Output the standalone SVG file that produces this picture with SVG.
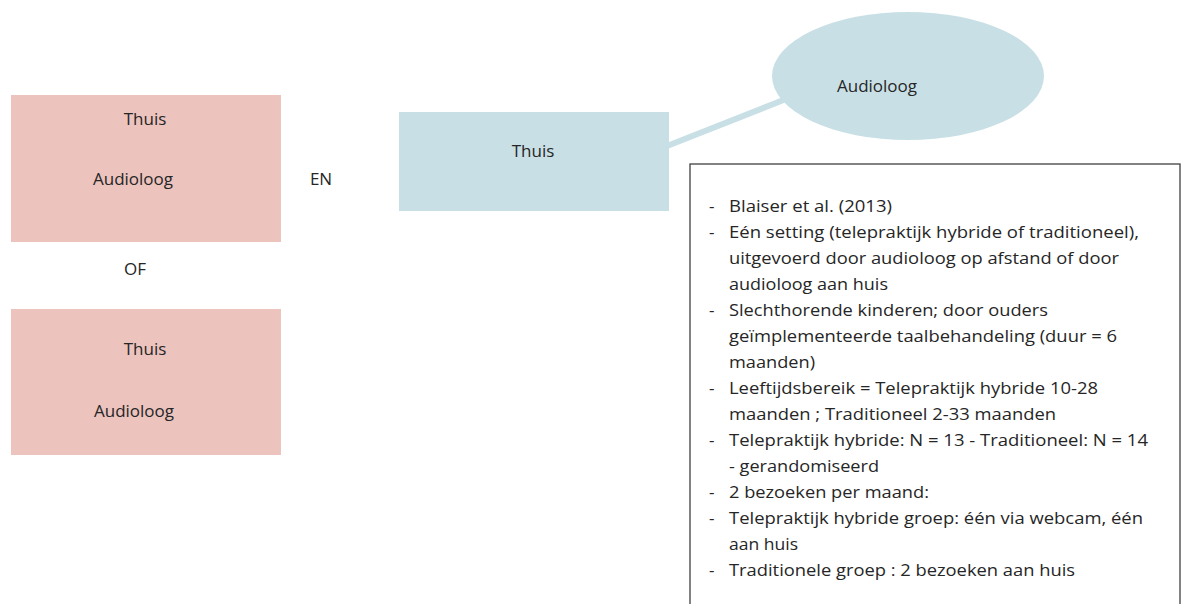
<svg xmlns="http://www.w3.org/2000/svg" width="1187" height="604" viewBox="0 0 1187 604">
<style>
  text { font-family: "Open Sans", "Liberation Sans", sans-serif; font-size: 17px; fill: #262626; }
  .pink { fill: #ECC3BD; }
  .blue { fill: #C8E0E5; }
  .c { text-anchor: middle; }
  .box { fill: #ffffff; stroke: #404040; stroke-width: 1.3; }
</style>
<rect width="1187" height="604" fill="#ffffff"/>
<g id="connectors">
  <line x1="667" y1="146" x2="786" y2="99" stroke="#C8E0E5" stroke-width="6"/>
</g>
<g id="pink1">
  <rect class="pink" x="11" y="95" width="270" height="147"/>
  <text class="c" x="145" y="125">Thuis</text>
  <text class="c" x="133" y="185">Audioloog</text>
</g>
<g id="en-label">
  <text class="c" x="321" y="185">EN</text>
</g>
<g id="of-label">
  <text class="c" x="135" y="275">OF</text>
</g>
<g id="pink2">
  <rect class="pink" x="11" y="309" width="270" height="146"/>
  <text class="c" x="145" y="355">Thuis</text>
  <text class="c" x="134" y="417">Audioloog</text>
</g>
<g id="thuis-blue">
  <rect class="blue" x="399" y="112" width="270" height="99"/>
  <text class="c" x="533" y="157">Thuis</text>
</g>
<g id="audioloog-ellipse">
  <ellipse class="blue" cx="908" cy="76" rx="136" ry="64"/>
  <text class="c" x="877" y="92">Audioloog</text>
</g>
<g id="info-box">
  <rect class="box" x="690" y="164" width="490" height="450"/>
  <g>
    <text x="709" y="212">-</text>
    <text x="729" y="212" textLength="163" lengthAdjust="spacingAndGlyphs">Blaiser et al. (2013)</text>
    <text x="709" y="238">-</text>
    <text x="729" y="238" textLength="410" lengthAdjust="spacingAndGlyphs">Eén setting (telepraktijk hybride of traditioneel),</text>
    <text x="729" y="264" textLength="390" lengthAdjust="spacingAndGlyphs">uitgevoerd door audioloog op afstand of door</text>
    <text x="729" y="290" textLength="159" lengthAdjust="spacingAndGlyphs">audioloog aan huis</text>
    <text x="709" y="316">-</text>
    <text x="729" y="316" textLength="319" lengthAdjust="spacingAndGlyphs">Slechthorende kinderen; door ouders</text>
    <text x="729" y="342" textLength="388" lengthAdjust="spacingAndGlyphs">geïmplementeerde taalbehandeling (duur = 6</text>
    <text x="729" y="368" textLength="86" lengthAdjust="spacingAndGlyphs">maanden)</text>
    <text x="709" y="394">-</text>
    <text x="729" y="394" textLength="369" lengthAdjust="spacingAndGlyphs">Leeftijdsbereik = Telepraktijk hybride 10-28</text>
    <text x="729" y="420" textLength="327" lengthAdjust="spacingAndGlyphs">maanden ; Traditioneel 2-33 maanden</text>
    <text x="709" y="446">-</text>
    <text x="729" y="446" textLength="419" lengthAdjust="spacingAndGlyphs">Telepraktijk hybride: N = 13 - Traditioneel: N = 14</text>
    <text x="729" y="472" textLength="150" lengthAdjust="spacingAndGlyphs">- gerandomiseerd</text>
    <text x="709" y="498">-</text>
    <text x="729" y="498" textLength="200" lengthAdjust="spacingAndGlyphs">2 bezoeken per maand:</text>
    <text x="709" y="524">-</text>
    <text x="729" y="524" textLength="414" lengthAdjust="spacingAndGlyphs">Telepraktijk hybride groep: één via webcam, één</text>
    <text x="729" y="550" textLength="69" lengthAdjust="spacingAndGlyphs">aan huis</text>
    <text x="709" y="576">-</text>
    <text x="729" y="576" textLength="346" lengthAdjust="spacingAndGlyphs">Traditionele groep : 2 bezoeken aan huis</text>
  </g>
</g>
</svg>
